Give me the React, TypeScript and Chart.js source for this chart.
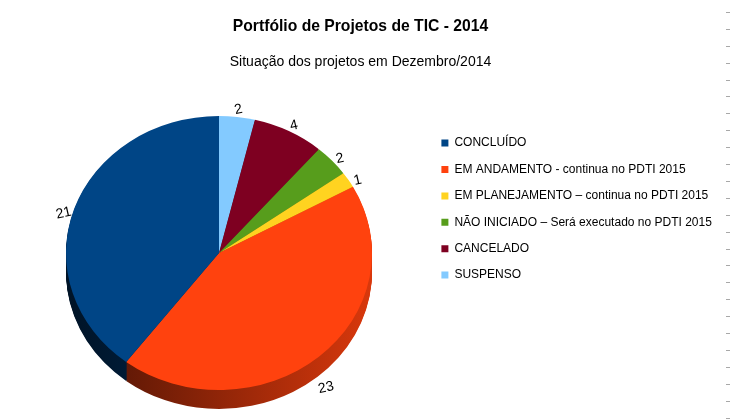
import React, { useEffect, useRef } from "react";
import { Chart, registerables } from "chart.js";

Chart.register(...registerables);

const categories = [
  "CONCLUÍDO",
  "EM ANDAMENTO - continua no PDTI 2015",
  "EM PLANEJAMENTO – continua no PDTI 2015",
  "NÃO INICIADO – Será executado no PDTI 2015",
  "CANCELADO",
  "SUSPENSO",
];
const projectCounts = [21, 23, 1, 2, 4, 2];
const sliceColors = ["#004586", "#ff420e", "#ffd320", "#579d1c", "#7e0021", "#83caff"];
const titleText = "Portfólio de Projetos de TIC - 2014";
const subtitleText = "Situação dos projetos em Dezembro/2014";

const FONT = '"Liberation Sans", Arial, sans-serif';
const TILT = 137 / 153;
const DEPTH = 19;

function shade(hex: string, f: number): string {
  const h = hex.replace("#", "");
  const r = Math.round(parseInt(h.slice(0, 2), 16) * f);
  const g = Math.round(parseInt(h.slice(2, 4), 16) * f);
  const b = Math.round(parseInt(h.slice(4, 6), 16) * f);
  return `rgb(${r},${g},${b})`;
}

const legendRoom = {
  id: "legendRoom",
  afterLayout(chart: any) {
    const lg = chart.legend;
    if (lg) {
      lg.right = lg.right + 16;
      lg.width = lg.width + 16;
    }
  },
};

const pie3d = {
  id: "pie3d",
  beforeDatasetsDraw(chart: any) {
    const ctx = chart.ctx as CanvasRenderingContext2D;
    const meta = chart.getDatasetMeta(0);
    const arcs = meta.data;
    chart.$pieSaved = false;
    if (!arcs.length) return;
    const { x: cx, y: cy, outerRadius: r } = arcs[0].getProps(["x", "y", "outerRadius"], true);
    const colors = chart.data.datasets[0].backgroundColor as string[];
    for (let d = DEPTH; d >= 1; d--) {
      arcs.forEach((arc: any, i: number) => {
        const { startAngle, endAngle } = arc.getProps(["startAngle", "endAngle"], true);
        ctx.save();
        ctx.translate(cx, cy + d);
        ctx.scale(1, TILT);
        const g = ctx.createLinearGradient(-r, 0, r, 0);
        g.addColorStop(0, shade(colors[i], 0.28));
        g.addColorStop(1, shade(colors[i], 0.85));
        ctx.fillStyle = g;
        ctx.beginPath();
        ctx.moveTo(0, 0);
        ctx.arc(0, 0, r, startAngle, endAngle);
        ctx.closePath();
        ctx.fill();
        ctx.restore();
      });
    }
    ctx.save();
    ctx.translate(cx, cy);
    ctx.scale(1, TILT);
    ctx.translate(-cx, -cy);
    chart.$pieSaved = true;
  },
  afterDatasetsDraw(chart: any) {
    const ctx = chart.ctx as CanvasRenderingContext2D;
    if (!chart.$pieSaved) return;
    ctx.restore();
    chart.$pieSaved = false;
    const meta = chart.getDatasetMeta(0);
    const arcs = meta.data;
    const data = chart.data.datasets[0].data as number[];
    ctx.save();
    ctx.font = `14px ${FONT}`;
    ctx.fillStyle = "#000";
    ctx.textAlign = "center";
    ctx.textBaseline = "middle";
    arcs.forEach((arc: any, i: number) => {
      const { x: cx, y: cy, startAngle, endAngle, outerRadius: r } = arc.getProps(
        ["x", "y", "startAngle", "endAngle", "outerRadius"],
        true
      );
      const mid = (startAngle + endAngle) / 2;
      const c = Math.cos(mid);
      const s = Math.sin(mid);
      const lx = cx + (r + 11) * c;
      const ly = cy + (r * TILT + 17) * s + DEPTH / 2 + Math.max(0, s) * DEPTH * 0.6;
      ctx.save();
      ctx.translate(lx, ly);
      ctx.rotate((-13 * Math.PI) / 180);
      ctx.fillText(String(data[i]), 0, 0);
      ctx.restore();
    });
    ctx.restore();
  },
};

export default function App() {
  const canvasRef = useRef<HTMLCanvasElement | null>(null);

  useEffect(() => {
    if (!canvasRef.current) return;
    // LibreOffice draws counter-clockwise; reverse for Chart.js clockwise drawing
    const labels = [...categories].reverse();
    const values = [...projectCounts].reverse();
    const colors = [...sliceColors].reverse();
    const chart = new Chart(canvasRef.current, {
      type: "pie",
      data: {
        labels,
        datasets: [
          {
            data: values,
            backgroundColor: colors,
            borderWidth: 0,
            radius: 153,
            clip: false,
          } as any,
        ],
      },
      options: {
        responsive: false,
        animation: false,
        events: [],
        layout: { padding: { left: 11, right: 20, top: 0, bottom: 0.4 } },
        plugins: {
          title: {
            display: true,
            text: titleText,
            color: "#000",
            font: { family: FONT, size: 15.7, weight: "bold" },
            padding: { top: 17.4, bottom: 0 },
          },
          subtitle: {
            display: true,
            text: subtitleText,
            color: "#000",
            font: { family: FONT, size: 14, weight: "normal" },
            padding: { top: 17.36, bottom: 0 },
          },
          legend: {
            position: "right",
            align: "start",
            fullSize: false,
            reverse: true,
            maxWidth: 283,
            title: {
              display: true,
              text: "",
              padding: { top: 37.9, bottom: 0 },
              font: { family: FONT, size: 12 },
            },
            labels: {
              boxWidth: 7,
              boxHeight: 7,
              padding: 14.4,
              color: "#000",
              font: { family: FONT, size: 12 },
            },
          },
          tooltip: { enabled: false },
        },
      } as any,
      plugins: [pie3d, legendRoom],
    });
    return () => chart.destroy();
  }, []);

  return (
    <div
      style={{
        position: "fixed",
        left: 0,
        top: 0,
        width: 730,
        height: 419,
        overflow: "hidden",
        background: "#fff",
      }}
    >
      <canvas ref={canvasRef} width={730} height={436} style={{ display: "block", width: 730, height: 436 }} />
      <div
        style={{
          position: "absolute",
          right: 0,
          top: 12,
          width: 4,
          height: 407,
          background: "repeating-linear-gradient(to bottom, #a8a8a8 0px, #a8a8a8 1px, transparent 1px, transparent 16.9px)",
        }}
      />
    </div>
  );
}
